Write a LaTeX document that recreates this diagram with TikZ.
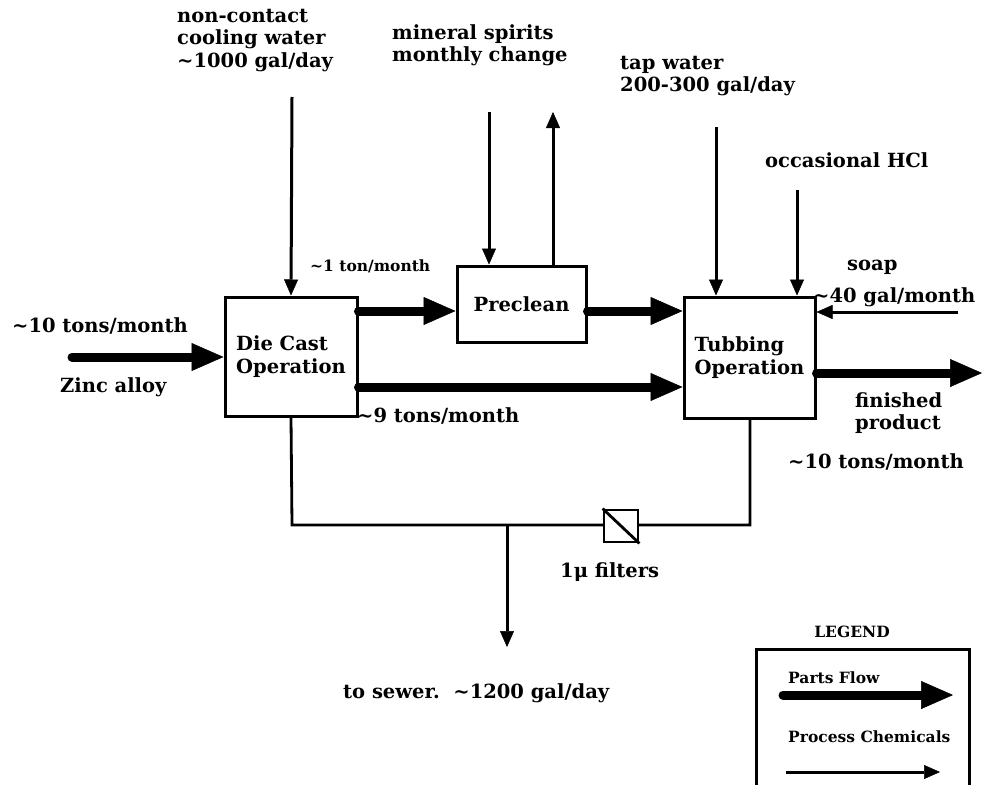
\documentclass[tikz,border=0pt]{standalone}
\usepackage{fontspec}
\setmainfont{DejaVu Serif}
\usetikzlibrary{arrows.meta}
\begin{document}
\begin{tikzpicture}[x=1pt,y=-1pt,
  font=\bfseries\fontsize{19.5}{22.5}\selectfont,
  small/.style={font=\bfseries\fontsize{15.5}{18}\selectfont},
  lbl/.style={anchor=west, inner sep=0pt, align=left},
  box/.style={draw, line width=3pt, inner sep=0pt, align=left},
  parts/.style={line width=9pt, line cap=round, -{Triangle[length=32pt,width=28pt,line width=0.5pt]}},
  chem/.style={line width=3pt, -{Triangle[length=16pt,width=14pt,line width=0.5pt]}},
  pipe/.style={line width=2.8pt}]
\useasboundingbox (0,0) rectangle (984,784);
\clip (0,0) rectangle (984,784);

% process boxes
\node[box, minimum width=132pt, minimum height=119pt] (die) at (291,356.5) {Die Cast\\Operation};
\node[box, minimum width=129pt, minimum height=76pt] (pre) at (521.5,304) {Preclean};
\node[box, minimum width=131pt, minimum height=121pt] (tub) at (749.5,357.5) {Tubbing\\Operation};

% free ends
\coordinate (cw) at (292,97);
\coordinate (msin) at (489,112);
\coordinate (msout) at (553,112);
\coordinate (tap) at (716,127);
\coordinate (hcl) at (797,190);
\coordinate (soap) at (958,312);
\coordinate (fin) at (982,373);
\coordinate (zinc) at (72,357);
\coordinate (tubout) at (750,418);
\coordinate (j1) at (292,525);
\coordinate (j2) at (750,525);
\coordinate (sew) at (507,525);
\coordinate (sewend) at (507,647);

% chemical inputs
\draw[chem] (cw) -- (die.north);
\draw[chem] (msin) -- (msin |- pre.north);
\draw[chem] (msout |- pre.north) -- (msout);
\draw[chem] (tap) -- (tap |- tub.north);
\draw[chem] (hcl) -- (hcl |- tub.north);
\draw[chem] (soap) -- (tub.east |- soap);

% parts flow
\draw[parts] (zinc) -- (die.west |- zinc);
\draw[parts] (die.east |- 0,311) -- (pre.west |- 0,311);
\draw[parts] (pre.east |- 0,311) -- (tub.west |- 0,311);
\draw[parts] (die.east |- 0,387) -- (tub.west |- 0,387);
\draw[parts] (tub.east |- fin) -- (fin);

% waste water
\draw[pipe] (die.south) -- (j1) -- (j2) -- (tubout);
\node[draw, line width=2.8pt, fill=white, minimum width=34pt, minimum height=32pt, inner sep=0pt] (filt) at (621,526) {};
\draw[line width=2.8pt] (filt.north west) -- (filt.south east);
\draw[chem] (sew) -- (sewend);

% labels
\node[lbl, anchor=north west] (t1) at (177,9) {non-contact\\cooling water\\\textasciitilde1000 gal/day};
\node[lbl, anchor=north west] (t2) at (392,24) {mineral spirits\\monthly change};
\node[lbl, anchor=north west] (t3) at (620,56) {tap water\\200-300 gal/day};
\node[lbl] (t4) at (765,160) {occasional HCl};
\node[lbl] (t5) at (847,267) {soap};
\node[lbl] (t6) at (813,297) {\textasciitilde40 gal/month};
\node[lbl] (t7) at (12,326) {\textasciitilde10 tons/month};
\node[lbl] (t8) at (60,387) {Zinc alloy};
\node[lbl, small] (t9) at (310,266) {\textasciitilde1 ton/month};
\node[lbl] (t10) at (357,416) {\textasciitilde9 tons/month};
\node[lbl, anchor=north west] (t11) at (855,392) {finished\\product};
\node[lbl] (t12) at (788,462) {\textasciitilde10 tons/month};
\node[lbl] (t13) at (560,572) {1μ filters};
\node[lbl] (t14) at (343,693) {to sewer.\ \ \textasciitilde1200 gal/day};

% legend
\node[small, inner sep=0pt] (leg) at (852,632) {LEGEND};
\node[draw, line width=2.8pt, anchor=north west, minimum width=213pt, minimum height=160pt] (legbox) at (755,648) {};
\node[lbl, small] (lp) at (788,678) {Parts Flow};
\coordinate (lpa) at (783,695);
\coordinate (lpb) at (953,695);
\draw[parts] (lpa) -- (lpb);
\node[lbl, small] (lc) at (788,737) {Process Chemicals};
\coordinate (lca) at (786,772);
\coordinate (lcb) at (940,772);
\draw[chem] (lca) -- (lcb);
\end{tikzpicture}
\end{document}
